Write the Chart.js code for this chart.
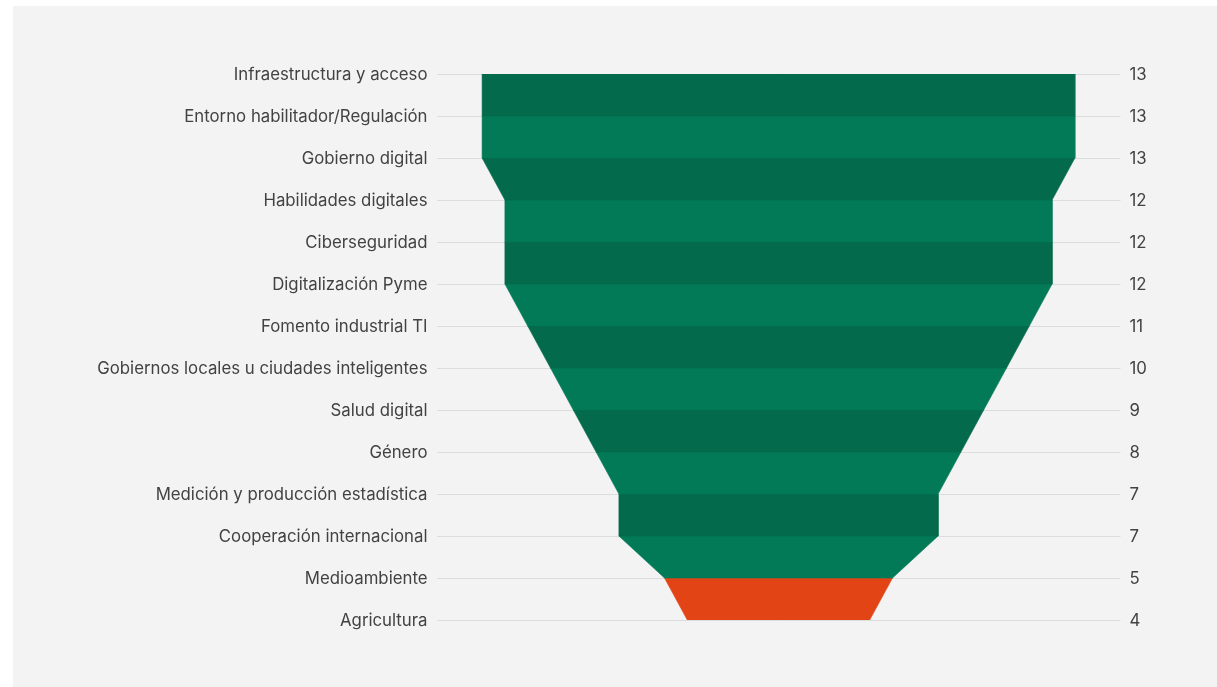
<!DOCTYPE html>
<html>
<head>
<meta charset="utf-8">
<script src="https://cdn.jsdelivr.net/npm/chart.js@4"></script>
<style>
  html, body { margin: 0; padding: 0; background: #fff; }
  #panel {
    position: absolute; left: 13px; top: 6px;
    width: 1204px; height: 681px; background: #f3f3f3;
  }
  #funnel { display: block; }
</style>
</head>
<body>
<div id="panel"><canvas id="funnel" width="1204" height="681"></canvas></div>
<script>
const CATEGORIES = [
  "Infraestructura y acceso",
  "Entorno habilitador/Regulación",
  "Gobierno digital",
  "Habilidades digitales",
  "Ciberseguridad",
  "Digitalización Pyme",
  "Fomento industrial TI",
  "Gobiernos locales u ciudades inteligentes",
  "Salud digital",
  "Género",
  "Medición y producción estadística",
  "Cooperación internacional",
  "Medioambiente",
  "Agricultura",
];
const VALUES = [13, 13, 13, 12, 12, 12, 11, 10, 9, 8, 7, 7, 5, 4];

const DARK = "#036a4c";
const LIGHT = "#027a57";
const HIGHLIGHT = "#e34415";

// one trapezoid per pair of neighbouring rows
function buildBands() {
  const bands = [];
  for (let i = 0; i < VALUES.length - 1; i++) {
    const top = VALUES[i], bottom = VALUES[i + 1];
    const last = i === VALUES.length - 2;
    const color = last ? HIGHLIGHT : (i % 2 === 0 ? DARK : LIGHT);
    bands.push({
      data: [
        { x: -top, y: i },
        { x: top, y: i },
        { x: bottom, y: i + 1 },
        { x: -bottom, y: i + 1 },
        { x: -top, y: i },
      ],
      showLine: true,
      fill: "shape",
      backgroundColor: color,
      borderColor: color,
      borderWidth: 0.6,
      pointRadius: 0,
      pointHoverRadius: 0,
    });
  }
  return bands;
}

const tickFont = { family: "Inter", size: 16.8 };
const tickColor = "#424242";

new Chart(document.getElementById("funnel"), {
  type: "scatter",
  data: { datasets: buildBands() },
  options: {
    responsive: false,
    animation: false,
    layout: { padding: { top: 68, bottom: 67, left: 0, right: 0 } },
    plugins: { legend: { display: false }, tooltip: { enabled: false } },
    scales: {
      x: { type: "linear", min: -15, max: 15, display: false },
      y: {
        type: "linear",
        position: "left",
        reverse: true,
        min: 0,
        max: VALUES.length - 1,
        afterFit: (s) => { s.width = 423.5; },
        border: { display: false },
        grid: { color: "#dcdcdc", lineWidth: 1, drawTicks: false },
        ticks: {
          stepSize: 1,
          padding: 9,
          labelOffset: 1,
          font: tickFont,
          color: tickColor,
          callback: (v) => CATEGORIES[v],
        },
      },
      yRight: {
        type: "linear",
        position: "right",
        reverse: true,
        min: 0,
        max: VALUES.length - 1,
        afterFit: (s) => { s.width = 96.5; },
        border: { display: false },
        grid: { display: false, drawTicks: false },
        ticks: {
          stepSize: 1,
          padding: 9,
          labelOffset: 1,
          font: tickFont,
          color: tickColor,
          callback: (v) => VALUES[v],
        },
      },
    },
  },
});
</script>
</body>
</html>
